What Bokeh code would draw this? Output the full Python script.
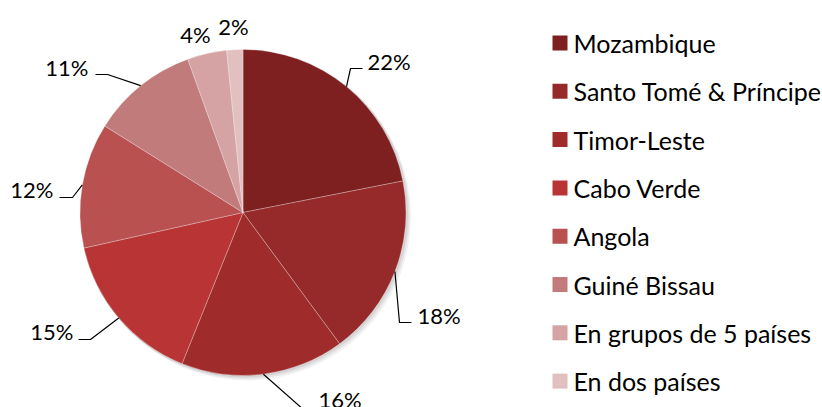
import numpy as np
from bokeh.plotting import figure
from bokeh.models import Range1d, ColumnDataSource
from bokeh.core.properties import value
from bokeh.embed import file_html
from bokeh.resources import INLINE

# ---- data ----
categories = ["Mozambique", "Santo Tomé & Príncipe", "Timor-Leste", "Cabo Verde",
              "Angola", "Guiné Bissau", "En grupos de 5 países", "En dos países"]
shares = [21.9, 18.0, 16.2, 15.4, 12.4, 10.6, 3.9, 1.6]
pct_labels = ["22%", "18%", "16%", "15%", "12%", "11%", "4%", "2%"]

# ---- styles ----
colors = ["#7E2020", "#962A2A", "#A02B2B", "#B93535", "#B95151", "#C27B7B", "#D5A3A3", "#E3C0C0"]
FONT = "Lato"

W, H = 822, 407
def sx(x):  # screenshot x -> data x
    return x
def sy(y):  # screenshot y -> data y (up)
    return H - y

p = figure(width=W, height=H, output_backend="svg", toolbar_location=None,
           x_range=Range1d(0, W), y_range=Range1d(0, H), min_border=0)
p.axis.visible = False
p.grid.visible = False
p.outline_line_color = None
p.background_fill_color = "white"

cx, cy, R = sx(242.5), sy(212), 163

# soft shadow
for off, a in [(4, 0.05), (2.5, 0.06), (1, 0.07)]:
    p.circle(x=cx + off, y=cy - off, radius=R + 1, fill_color="black", fill_alpha=a, line_color=None)

vals = np.array(shares, dtype=float)
frac = vals / vals.sum()
cum = np.cumsum(frac)
start = np.pi / 2 - (cum - frac) * 2 * np.pi
end = np.pi / 2 - cum * 2 * np.pi
mid = (start + end) / 2

src = ColumnDataSource(dict(start=start, end=end, color=colors, cat=categories))
p.wedge(x=cx, y=cy, radius=R, start_angle="start", end_angle="end", direction="clock",
        fill_color="color", line_color="white", line_alpha=0.35, line_width=0.8, source=src)

# ---- leader lines / labels (layout, screenshot coords) ----
elbow = {0: (350, 68), 1: (399, 322), 2: (304, 410), 3: (90, 339), 4: (72, 197), 5: (107, 74)}
lend = {0: (362, 68), 1: (411, 322), 2: (312, 410), 3: (78, 339), 4: (59, 197), 5: (95, 74)}
xs, ys = [], []
for i in elbow:
    ex, ey = cx + R * np.cos(mid[i]), cy + R * np.sin(mid[i])
    xs.append([ex, sx(elbow[i][0]), sx(lend[i][0])])
    ys.append([ey, sy(elbow[i][1]), sy(lend[i][1])])
p.multi_line(xs=xs, ys=ys, line_color="black", line_width=1.2)

lab_pos = {0: (367, 61, "left"), 1: (417, 315, "left"), 2: (318, 399, "left"),
           3: (73, 331, "right"), 4: (53, 189, "right"), 5: (88, 67, "right"),
           6: (195, 34, "center"), 7: (233, 26, "center")}
for align in ["left", "right", "center"]:
    idx = [i for i in lab_pos if lab_pos[i][2] == align]
    p.text(x=[sx(lab_pos[i][0]) for i in idx], y=[sy(lab_pos[i][1]) for i in idx],
           text=[pct_labels[i] for i in idx], text_align=align, text_baseline="middle",
           text_font=value(FONT), text_font_size="22px", text_color="black")

# ---- legend ----
row_y = [sy(42.5 + i * 48.3) for i in range(len(categories))]
p.rect(x=[sx(559.5)] * len(categories), y=row_y, width=15, height=15,
       fill_color=colors, line_color=None)
p.text(x=[sx(573)] * len(categories), y=row_y, text=categories, text_align="left",
       text_baseline="middle", text_font=value(FONT), text_font_size="25px", text_color="black")

open("out.html", "w").write(file_html(p, INLINE))
